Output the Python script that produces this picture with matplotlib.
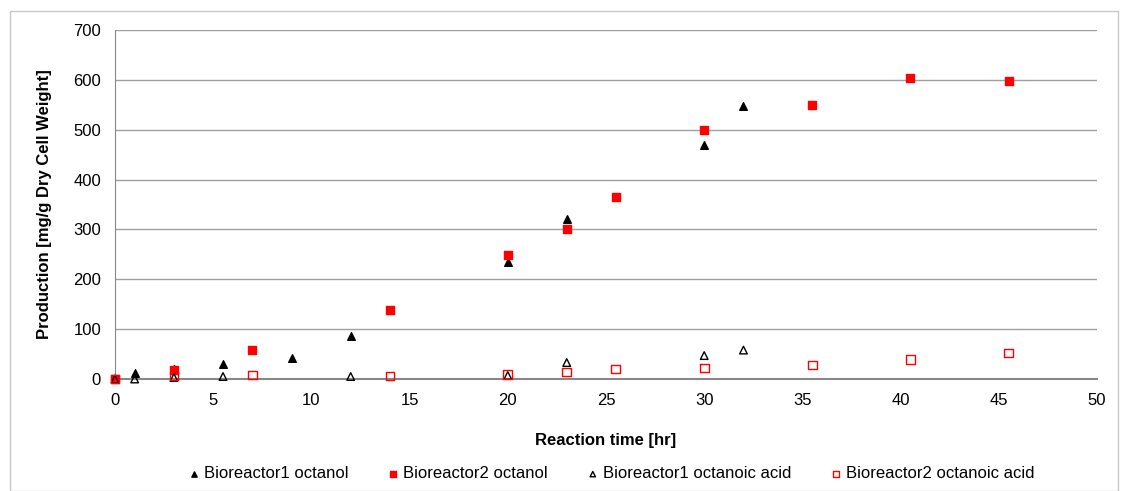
import matplotlib.pyplot as plt
from matplotlib.patches import Rectangle

# Reaction time [hr] and production [mg/g DCW]
t_b1_ol = [0, 1, 3, 5.5, 9, 12, 20, 23, 30, 32]
y_b1_ol = [0, 12, 20, 30, 42, 86, 235, 320, 470, 548]

t_b2_ol = [0, 3, 7, 14, 20, 23, 25.5, 30, 35.5, 40.5, 45.5]
y_b2_ol = [0, 18, 58, 138, 248, 300, 366, 500, 550, 603, 598]

t_b1_acid = [0, 1, 3, 5.5, 12, 20, 23, 30, 32]
y_b1_acid = [0, 0, 3, 5, 5, 7, 33, 47, 58]

t_b2_acid = [0, 3, 7, 14, 20, 23, 25.5, 30, 35.5, 40.5, 45.5]
y_b2_acid = [0, 6, 8, 6, 9, 14, 20, 22, 28, 39, 52]

plt.rcParams['font.family'] = ['Liberation Sans', 'DejaVu Sans']

fig = plt.figure(figsize=(11.26, 4.91), dpi=100)
fig.patches.append(Rectangle((10 / 1126, 0), 1108 / 1126, 480 / 491, transform=fig.transFigure,
                             fill=False, edgecolor='#c8c8c8', lw=1))
ax = fig.add_axes([115 / 1126, 1 - 379 / 491, 982 / 1126, 349 / 491])

ax.scatter(t_b1_ol, y_b1_ol, marker='^', s=30, color='black', zorder=3, clip_on=False,
           label='Bioreactor1 octanol')
ax.scatter(t_b2_ol, y_b2_ol, marker='s', s=30, color='#ff0000', zorder=3, clip_on=False,
           label='Bioreactor2 octanol')
ax.scatter(t_b1_acid, y_b1_acid, marker='^', s=30, facecolor='none', edgecolor='black', lw=1,
           zorder=4, clip_on=False, label='Bioreactor1 octanoic acid')
ax.scatter(t_b2_acid, y_b2_acid, marker='s', s=40, facecolor='none', edgecolor='#ff0000', lw=1,
           zorder=4, clip_on=False, label='Bioreactor2 octanoic acid')

ax.set_xlim(0, 50)
ax.set_ylim(0, 700)
ax.set_xticks(range(0, 51, 5))
ax.set_yticks(range(0, 701, 100))
ax.yaxis.grid(True, color='#a0a0a0', lw=1)
ax.set_axisbelow(True)
for s in ['top', 'right']:
    ax.spines[s].set_visible(False)
ax.spines['left'].set_color('#888888')
ax.spines['bottom'].set_color('#888888')
ax.spines['bottom'].set_linewidth(1.5)
ax.tick_params(length=0, labelsize=12, pad=10)
ax.set_xlabel('Reaction time [hr]', fontsize=12, fontweight='bold', labelpad=18)
ax.set_ylabel('Production [mg/g Dry Cell Weight]', fontsize=12, fontweight='bold', labelpad=15)

fig.legend(loc='center', bbox_to_anchor=(610 / 1126, 1 - 474 / 491), ncol=4, frameon=False,
           fontsize=12, handletextpad=0.1, columnspacing=2.2, markerscale=0.7,
           handlelength=1.0)

fig.savefig('out.png', dpi=100)
